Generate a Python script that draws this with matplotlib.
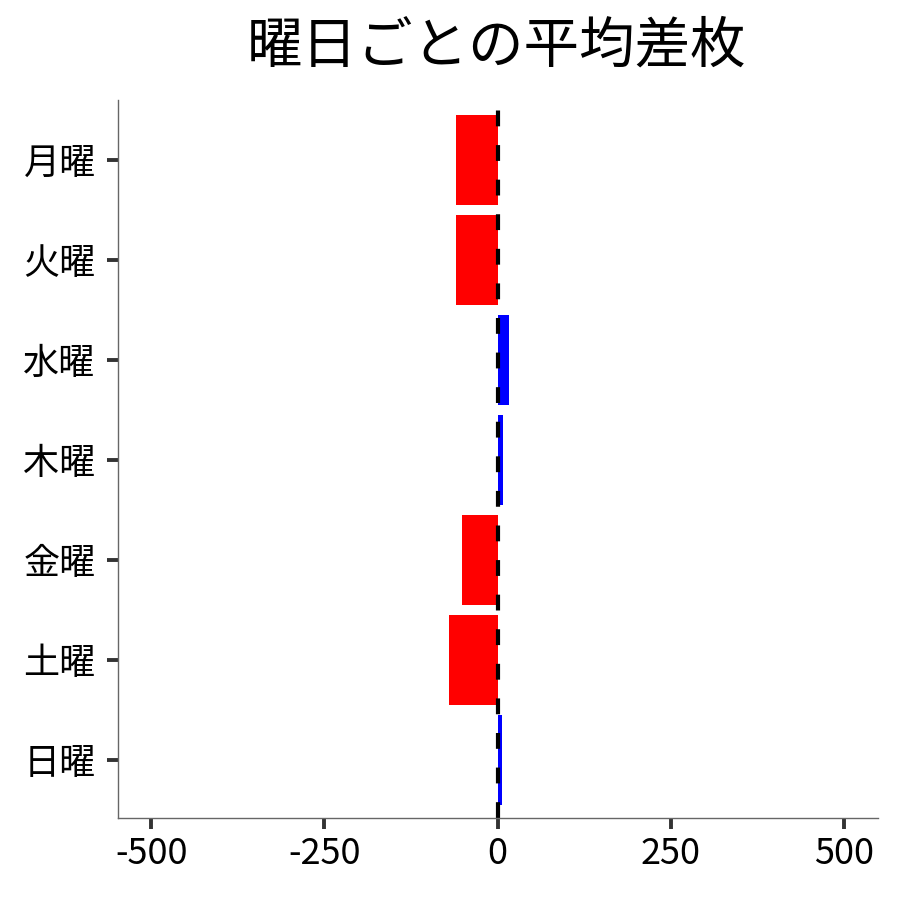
import matplotlib
matplotlib.use('Agg')
import matplotlib.pyplot as plt

plt.rcParams['font.family'] = ['Noto Sans CJK JP', 'DejaVu Sans']

days = ['月曜', '火曜', '水曜', '木曜', '金曜', '土曜', '日曜']
diff = [-60, -60, 16, 7, -52, -70, 6]
xticks = [-500, -250, 0, 250, 500]

colors = ['blue' if v > 0 else 'red' for v in diff]

fig = plt.figure(figsize=(9, 9), dpi=100)
ax = fig.add_axes([0.131, 0.091, 0.844, 0.798])

ax.barh(range(len(days)), diff, height=0.9, color=colors)
ax.axvline(0, color='black', linewidth=3, linestyle=(0, (3.8, 4.5)))

ax.set_yticks(range(len(days)))
ax.set_yticklabels(days)
ax.set_ylim(len(days) - 0.42, -0.6)
ax.set_xticks(xticks)
ax.set_xticklabels([str(t) for t in xticks])
ax.set_xlim(-548, 548)

ax.tick_params(axis='both', labelsize=26, length=8, width=2.8, color='#333333')
ax.tick_params(axis='y', pad=8)
ax.tick_params(axis='x', pad=5)
for s in ['top', 'right']:
    ax.spines[s].set_visible(False)
for s in ['left', 'bottom']:
    ax.spines[s].set_color('#666666')
    ax.spines[s].set_linewidth(1)

fig.text(0.552, 0.948, '曜日ごとの平均差枚', fontsize=40, ha='center', va='center')

fig.savefig('out.png', dpi=100)
